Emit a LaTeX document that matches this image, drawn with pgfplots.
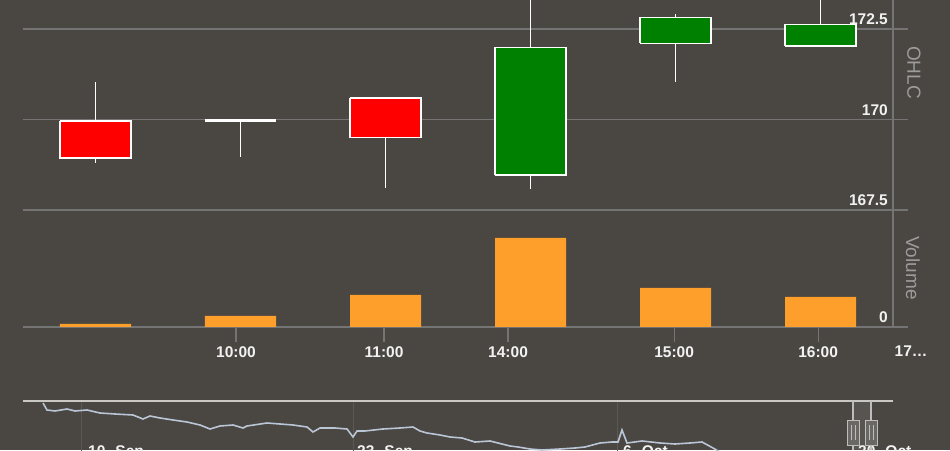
\documentclass[border=0pt]{standalone}
\usepackage{pgfplots}
\pgfplotsset{compat=1.18}
\usepackage{fontspec}
\setmainfont{Liberation Sans}

\definecolor{bg}{HTML}{4A4642}
\definecolor{gridc}{HTML}{747474}
\definecolor{tickc}{HTML}{F2F2F2}
\definecolor{titlec}{HTML}{9C9C9C}
\definecolor{upc}{HTML}{008000}
\definecolor{downc}{HTML}{FF0000}
\definecolor{volc}{HTML}{FF9F2B}
\definecolor{navline}{HTML}{BAC6D6}
\definecolor{navtop}{HTML}{CAC8C2}
\definecolor{navgrid}{HTML}{5C5955}
\definecolor{handlefill}{HTML}{6A6764}
\definecolor{handlec}{HTML}{BDBDBD}

\newcommand\tickfont{\fontsize{15.5}{15.5}\selectfont\bfseries}

\pgfplotsset{
  body/.style={fill=#1, draw=white, line width=1.4pt},
  panel/.style={
    scale only axis, anchor=south west,
    xmin=-0.5, xmax=5.603,
    axis line style={draw=none},
    ytick style={draw=none},
    yticklabel pos=right,
    ymajorgrids, grid style={gridc, line width=1.2pt},
    yticklabel style={anchor=south east, inner sep=0pt, xshift=-20pt, yshift=4pt,
      font=\tickfont, text=tickc},
  },
}

\begin{document}
\begin{tikzpicture}[x=1pt,y=1pt]
\fill[bg] (0,0) rectangle (950,450);
\begin{scope}
\clip (0,0) rectangle (950,450);

% price panel: wicks (low..high), then bodies (open/close)
\begin{axis}[panel,
  at={(23pt,240pt)}, width=885pt, height=210pt,
  ymin=167.5, ymax=173.3,
  xtick=\empty,
  ytick={167.5,170,172.5}, yticklabels={167.5,170,172.5},
]
\addplot[white, line width=1.5pt, unbounded coords=jump] coordinates {
  (0,168.80)(0,171.04) (0,nan)
  (1,168.97)(1,169.97) (1,nan)
  (2,168.12)(2,170.59) (2,nan)
  (3,168.08)(3,173.60) (3,nan)
  (4,171.04)(4,172.90) (4,nan)
  (5,172.03)(5,173.50)};
\addplot[body=downc] coordinates {(-0.245,169.96)(0.245,169.96)(0.245,168.94)(-0.245,168.94)(-0.245,169.96)};
\addplot[white, line width=2.6pt] coordinates {(0.755,169.97)(1.245,169.97)};
\addplot[body=downc] coordinates {(1.755,170.59)(2.245,170.59)(2.245,169.50)(1.755,169.50)(1.755,170.59)};
\addplot[body=upc] coordinates {(2.755,168.47)(3.245,168.47)(3.245,171.98)(2.755,171.98)(2.755,168.47)};
\addplot[body=upc] coordinates {(3.755,172.10)(4.245,172.10)(4.245,172.81)(3.755,172.81)(3.755,172.10)};
\addplot[body=upc] coordinates {(4.755,172.03)(5.245,172.03)(5.245,172.63)(4.755,172.63)(4.755,172.03)};
\end{axis}

% volume panel
\begin{axis}[panel,
  at={(23pt,123pt)}, width=885pt, height=114pt,
  ymin=0, ymax=114,
  ytick={0}, yticklabels={0},
  xtick={0.969,1.99,2.845,3.99,4.983},
  xticklabels={10:00,11:00,14:00,15:00,16:00},
  xtick pos=left, xtick align=outside, major tick length=15pt,
  xtick style={draw=gridc, line width=1.2pt},
  xticklabel style={anchor=north, inner sep=0pt, yshift=-4pt,
    font=\tickfont, text=tickc},
  ybar, bar width=0.49, clip=false,
]
\addplot[fill=volc, draw=none] coordinates {(0,3)(1,11)(2,32)(3,89)(4,39)(5,30)};
\node[anchor=north, inner sep=0pt, yshift=-19pt, font=\tickfont, text=tickc]
  at (axis cs:5.624,0) {17…};
\end{axis}

\draw[gridc, line width=1.2pt] (893,123) -- (893,452);
\node[rotate=-90, text=titlec, font=\fontsize{19}{19}\selectfont] at (914,377.5) {OHLC};
\node[rotate=-90, text=titlec, font=\fontsize{19}{19}\selectfont] at (913,182) {Volume};

% navigator
\fill[white, opacity=0.08] (853,0) rectangle (871,49);
\begin{axis}[
  at={(23pt,-20pt)}, anchor=south west, scale only axis, width=870pt, height=69pt,
  xmin=23, xmax=893, ymin=-470, ymax=-401,
  axis line style={draw=none}, ytick=\empty,
  xtick={81,353,617}, xticklabels={}, xtick style={draw=none},
  xmajorgrids, grid style={navgrid, line width=0.9pt},
  clip=false,
]
\addplot[navline, line width=1.6pt] coordinates {
(43,-403)(47,-410)(55,-411)(67,-409)(75,-411)(87,-410)(100,-413)(115,-414)
(133,-415)(143,-419)(150,-416)(160,-418)(173,-420)(187,-422)(200,-425)(210,-429)
(220,-426)(233,-425)(243,-428)(247,-426)(267,-423)(280,-424)(293,-425)(307,-427)
(313,-432)(320,-428)(335,-428)(347,-429)(353,-437)(357,-431)(365,-431)(383,-429)
(400,-428)(413,-427)(420,-431)(427,-433)(440,-435)(450,-437)(462,-438)(475,-442)
(490,-441)(498,-443)(510,-446)(518,-447)(530,-449)(542,-450)(560,-449)(575,-448)
(585,-447)(600,-443)(612,-442)(618,-442)(622,-430)(627,-443)(642,-441)(660,-443)
(675,-444)(690,-443)(702,-442)(713,-448)(725,-455)(760,-458)(800,-456)(850,-457)(893,-456)};
\node[anchor=north west, inner sep=0pt, font=\tickfont, text=tickc] at (axis cs:88,-445) {10. Sep};
\node[anchor=north west, inner sep=0pt, font=\tickfont, text=tickc] at (axis cs:357,-445) {23. Sep};
\node[anchor=north west, inner sep=0pt, font=\tickfont, text=tickc] at (axis cs:623,-445) {6. Oct};
\node[anchor=north west, inner sep=0pt, font=\tickfont, text=tickc] at (axis cs:858,-445) {20. Oct};
\end{axis}
\draw[navtop, line width=2pt] (23,49) -- (893,49);
\draw[handlec, line width=1.1pt] (853,49) -- (853,0) (871,49) -- (871,0);
\filldraw[fill=handlefill, draw=handlec, line width=1pt] (847,5) rectangle (859,30);
\filldraw[fill=handlefill, draw=handlec, line width=1pt] (865,5) rectangle (877,30);
\draw[handlec, line width=0.7pt] (851,10) -- (851,25) (855,10) -- (855,25)
  (869,10) -- (869,25) (873,10) -- (873,25);
\end{scope}
\pgfresetboundingbox
\useasboundingbox (0,0) rectangle (950,450);
\end{tikzpicture}
\end{document}
